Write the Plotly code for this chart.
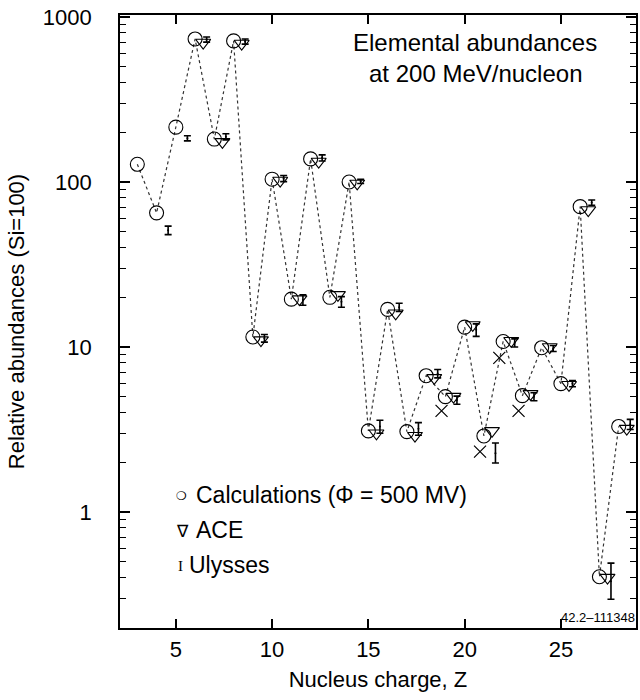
import plotly.graph_objects as go

# ---------------- data ----------------
calc_z = list(range(3, 29))
calc_val = [128, 65, 215, 736, 182, 716, 11.5, 104, 19.5, 138, 20.0, 100, 3.1,
            16.9, 3.07, 6.7, 5.0, 13.2, 2.89, 10.8, 5.07, 9.9, 6.0, 70.9, 0.405, 3.3]

ace_z = list(range(6, 29))
ace_val = [700, 175, 690, 11.0, 102, 19.5, 133, 20.7, 98, 3.0, 16.0, 2.9, 6.5,
           5.0, 13.6, 3.1, 10.9, 5.2, 10.0, 5.9, 67.6, 0.40, 3.2]

uly_z = list(range(4, 29))
uly_val = [51, 184, 730, 188, 710, 11.3, 105, 19.3, 140, 18.8, 101, 3.3, 17.4,
           3.2, 6.9, 4.77, 12.7, 2.27, 10.6, 5.0, 9.8, 6.0, 75, 0.38, 3.4]
uly_err_hi = [3, 6.5, 26, 8, 25, 0.6, 4.5, 1.4, 6, 1.4, 3, 0.3, 1.0, 0.28, 0.4,
              0.27, 1.1, 0.35, 0.6, 0.28, 0.4, 0.26, 2.7, 0.11, 0.24]
uly_err_lo = [3, 6.5, 26, 8, 25, 0.6, 4.5, 1.4, 6, 1.4, 3, 0.3, 1.0, 0.28, 0.4,
              0.27, 1.1, 0.29, 0.6, 0.28, 0.4, 0.26, 2.7, 0.084, 0.24]

other_z = [19, 21, 22, 23]
other_val = [4.1, 2.32, 8.6, 4.1]

x_ticks = [5, 10, 15, 20, 25]
y_ticks = [1, 10, 100, 1000]
y_minor = [d * m for m in (0.1, 1, 10, 100) for d in range(2, 10)]

# horizontal offsets of the data sets (drawing style)
ACE_DX = 0.42
ULY_DX = 0.6
OTH_DX = -0.2

FONT = "Liberation Sans"

fig = go.Figure()

# calculations: dotted line + open circles
fig.add_trace(go.Scatter(
    x=calc_z, y=calc_val, mode="lines",
    line=dict(color="#333333", width=1.2, dash="dot"),
    hoverinfo="skip"))
fig.add_trace(go.Scatter(
    x=calc_z, y=calc_val, mode="markers",
    marker=dict(symbol="circle-open", size=14, color="black",
                line=dict(width=1.1, color="black")),
    name="Calculations"))

# ACE: open down triangles
fig.add_trace(go.Scatter(
    x=[z + ACE_DX for z in ace_z], y=ace_val, mode="markers",
    marker=dict(symbol="triangle-down-open", size=13, color="black",
                line=dict(width=1.1, color="black")),
    name="ACE"))

# Ulysses: error bars
fig.add_trace(go.Scatter(
    x=[z + ULY_DX for z in uly_z], y=uly_val, mode="markers",
    marker=dict(size=2, color="black"),
    error_y=dict(type="data", symmetric=False, array=uly_err_hi,
                 arrayminus=uly_err_lo, color="black", thickness=1.6, width=3.5),
    name="Ulysses"))

# other data: crosses
fig.add_trace(go.Scatter(
    x=[z + OTH_DX for z in other_z], y=other_val, mode="markers",
    marker=dict(symbol="x-thin-open", size=12, color="black",
                line=dict(width=1.2, color="black")),
    name="other"))

# ---- layout geometry ----
L, R, T, B = 120, 2, 15, 72
W, H = 640, 700
pw, ph = W - L - R, H - T - B


def px(x):
    return (x - L) / pw


def py(y):
    return (H - B - y) / ph


def note(x, y, text, family=FONT, size=23, anchor="left"):
    return dict(x=px(x), y=py(y), xref="paper", yref="paper", text=text,
                showarrow=False, xanchor=anchor, yanchor="middle",
                font=dict(family=family, size=size, color="black"))


annotations = [
    note(476, 42, "Elemental abundances", size=24, anchor="center"),
    note(477, 73, "at 200 MeV/nucleon", size=24, anchor="center"),
    # legend
    note(174, 496, "❍", family="DejaVu Sans", size=12),
    note(194, 495, "Calculations (Φ = 500 MV)"),
    note(174, 531, "∇", family="Liberation Serif", size=17),
    note(194, 530, "ACE"),
    note(176, 566, "I", family="Liberation Serif", size=15),
    note(187, 565, "Ulysses"),
    note(639, 617, "42.2–111348", size=13, anchor="right"),
]

fig.update_layout(
    width=W, height=H,
    margin=dict(l=L, r=R, t=T, b=B),
    plot_bgcolor="white", paper_bgcolor="white",
    font=dict(family=FONT, size=22, color="black"),
    showlegend=False,
    annotations=annotations,
    xaxis=dict(
        range=[2.1, 28.9], tickvals=x_ticks, ticktext=[str(v) for v in x_ticks],
        ticks="inside", ticklen=9, tickwidth=1.5, tickcolor="black",
        ticklabelstandoff=1,
        showline=True, linewidth=1.6, linecolor="black", mirror="ticks",
        showgrid=False, zeroline=False,
        title=dict(text="Nucleus charge, Z", standoff=10,
                   font=dict(family=FONT, size=22)),
    ),
    yaxis=dict(
        type="log", range=[-0.703, 3.012],
        tickvals=y_ticks, ticktext=[str(v) for v in y_ticks],
        ticks="inside", ticklen=10, tickwidth=1.5, tickcolor="black",
        ticklabelstandoff=22,
        minor=dict(tickvals=y_minor, ticks="inside", ticklen=6,
                   tickwidth=1.2, tickcolor="black"),
        showline=True, linewidth=1.6, linecolor="black", mirror="ticks",
        showgrid=False, zeroline=False,
        title=dict(text="Relative abundances (Si=100)", standoff=12,
                   font=dict(family=FONT, size=22)),
    ),
)

fig.write_html("out.html")
